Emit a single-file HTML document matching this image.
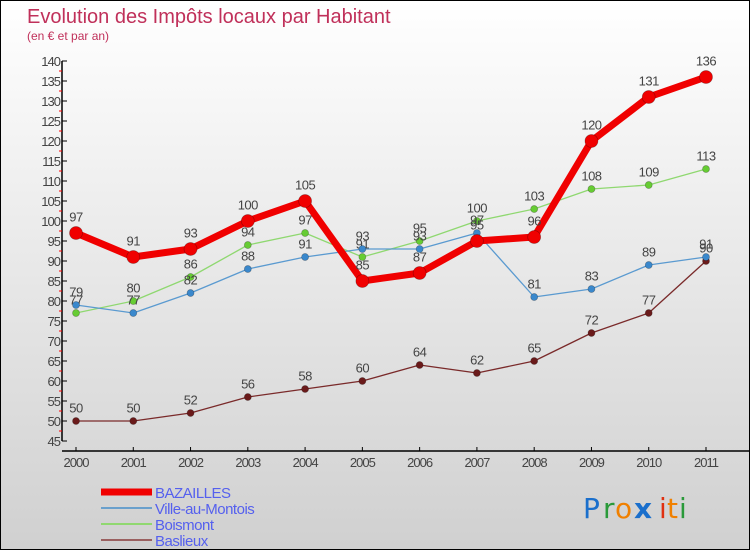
<!DOCTYPE html>
<html><head><meta charset="utf-8"><style>
html,body{margin:0;padding:0}
body{width:750px;height:550px;overflow:hidden;font-family:"Liberation Sans",sans-serif}
#wrap{position:relative;width:748px;height:548px;border:1px solid #000;background:linear-gradient(#ffffff,#d0d0d0)}
svg{position:absolute;left:0;top:0}
</style></head><body>
<div id="wrap">
<svg id="chart" width="748" height="548" font-family="Liberation Sans, sans-serif">
<text x="26" y="22" font-size="20" fill="#c0305a">Evolution des Impôts locaux par Habitant</text>
<text x="26" y="39" font-size="12" fill="#c0305a">(en € et par an)</text>
<g id="axes"></g><g id="series"></g><g id="legend"></g>
<g font-size="28" font-family="DejaVu Sans, sans-serif">
<text x="582" y="517" fill="#1a6fcc">P</text><text x="602" y="517" fill="#2a9a3a">r</text><text x="614" y="517" fill="#f08000">o</text><text x="633" y="517" fill="#1a6fcc" font-weight="bold">x</text><text x="658" y="517" fill="#e03010">i</text><text x="666" y="517" fill="#f08000">t</text><text x="678" y="517" fill="#2a9a3a">i</text>
</g>
</svg></div>
<script>
const years=[2000,2001,2002,2003,2004,2005,2006,2007,2008,2009,2010,2011];
const bazailles=[97,91,93,100,105,85,87,95,96,120,131,136];
const ville=[79,77,82,88,91,93,93,97,81,83,89,91];
const boismont=[77,80,86,94,97,91,95,100,103,108,109,113];
const baslieux=[50,50,52,56,58,60,64,62,65,72,77,90];
const yTicks=[45,50,55,60,65,70,75,80,85,90,95,100,105,110,115,120,125,130,135,140];
const NS="http://www.w3.org/2000/svg";
function xS(i){return 75+i*(705-75)/11;}
function yS(v){return 60+(140-v)*4;}
function mk(tag,attrs,parent){const e=document.createElementNS(NS,tag);for(const k in attrs)e.setAttribute(k,attrs[k]);parent.appendChild(e);return e;}
const axes=document.getElementById('axes');
let ya=mk('line',{x1:61,y1:yS(140),x2:61,y2:yS(45),stroke:'#000','stroke-width':1.5},axes);


let xa=mk('line',{x1:61,y1:450,x2:748,y2:450,stroke:'#000','stroke-width':1.5},axes);


yTicks.forEach(v=>{
  mk('line',{x1:61,y1:yS(v),x2:66,y2:yS(v),stroke:'#000'},axes);
  if(v<140)mk('line',{x1:58,y1:yS(v+2.5),x2:61,y2:yS(v+2.5),stroke:'#f00'},axes);
  const t=mk('text',{x:59,y:yS(v)+5,'text-anchor':'end','font-size':13,fill:'#444','letter-spacing':'-1'},axes);
  t.textContent=v;
  
  
});
years.forEach((y,i)=>{
  mk('line',{x1:xS(i),y1:446,x2:xS(i),y2:450,stroke:'#000'},axes);
  const t=mk('text',{x:xS(i),y:466,'text-anchor':'middle','font-size':13,fill:'#444','letter-spacing':'-1'},axes);
  t.textContent=y;
  
  
});
const sg=document.getElementById('series');
function drawSeries(vals,color,lw,r,name,dot){
  const g=mk('g',{},sg);
  
  
  const pts=vals.map((v,i)=>xS(i)+','+yS(v)).join(' ');
  mk('polyline',{points:pts,fill:'none',stroke:color,'stroke-width':lw,'stroke-linejoin':'round'},g);
  vals.forEach((v,i)=>{
    const c=mk('circle',{cx:xS(i),cy:yS(v),r:r,fill:dot,stroke:'rgba(0,0,0,0.3)','stroke-width':0.7},g);
    
    
    const t=mk('text',{x:xS(i),y:yS(v)-r-5,'text-anchor':'middle','font-size':13,fill:'#444','letter-spacing':'-0.5'},g);
    t.textContent=v;
    
    
  });
}
drawSeries(baslieux,'#7a2a2a',1.3,3.5,'baslieux','#6a1a1a');
drawSeries(boismont,'#8fd870',1.3,3.5,'boismont','#66cc33');
drawSeries(ville,'#5a9ad0',1.3,3.5,'ville-au-montois','#3a88cc');
drawSeries(bazailles,'#f00000',7,6.5,'bazailles','#f00000');
const lg=document.getElementById('legend');
const legend=[['BAZAILLES','#f00000',7],['Ville-au-Montois','#6aa0cc',2],['Boismont','#90d870',2],['Baslieux','#9a6060',2]];
legend.forEach((d,i)=>{
  const y=491+i*16;
  const g=mk('g',{},lg);
  
  
  mk('line',{x1:100,y1:y,x2:151,y2:y,stroke:d[1],'stroke-width':d[2]},g);
  const t=mk('text',{x:154,y:y+6,'font-size':15,fill:'#5560ee','letter-spacing':'-0.5'},g);
  t.textContent=d[0];
});
</script>
</body></html>
